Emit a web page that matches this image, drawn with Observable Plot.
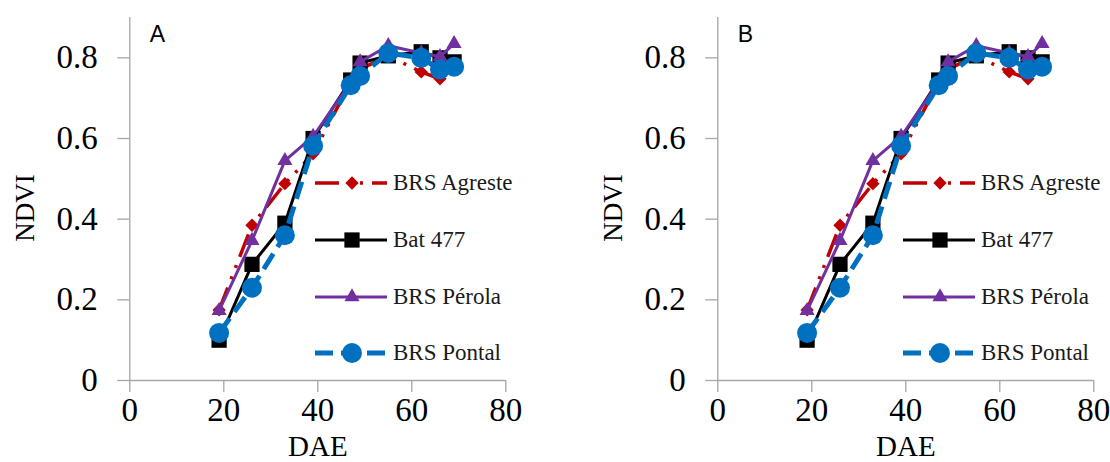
<!DOCTYPE html>
<html><head><meta charset="utf-8">
<script src="https://cdn.jsdelivr.net/npm/d3@7"></script>
<script src="https://cdn.jsdelivr.net/npm/@observablehq/plot@0.6"></script>
<style>
html,body{margin:0;padding:0;background:#fff;}
#chart{position:relative;width:1110px;height:462px;overflow:hidden;background:#fff;}
.panel{position:absolute;top:0;}
.legend{position:absolute;left:0;top:0;font-family:"Liberation Serif","Times New Roman",serif;font-size:23px;color:#1a1a1a;}
.legend .row{position:absolute;display:flex;align-items:center;height:30px;white-space:nowrap;}
.legend .row span{margin-left:6px;}
</style></head><body><div id="chart"></div>
<script>
// ---- data ----
const dae = [19, 26, 33, 39, 47, 49, 55, 62, 66, 69];
const agreste = [0.175, 0.385, 0.488, 0.562, 0.740, 0.772, 0.805, 0.765, 0.748, 0.780];
const bat477  = [0.100, 0.288, 0.390, 0.600, 0.745, 0.787, 0.805, 0.815, 0.800, 0.790];
const perola  = [0.173, 0.347, 0.545, 0.605, 0.740, 0.790, 0.830, 0.812, 0.803, 0.835];
const pontal  = [0.118, 0.230, 0.360, 0.582, 0.732, 0.755, 0.812, 0.800, 0.771, 0.778];
const seriesNames = ["BRS Agreste", "Bat 477", "BRS Pérola", "BRS Pontal"];
const seriesValues = [agreste, bat477, perola, pontal];
const xTicks = [0, 20, 40, 60, 80];
const yTicks = [0, 0.2, 0.4, 0.6, 0.8];
const panelLabels = ["A", "B"];
const xLabel = "DAE";
const yLabel = "NDVI";

// ---- styles ----
const styles = [
  {color: "#c00000", width: 3.5, dash: "24,9,3,9,3,9", symbol: "diamond2", r: 6},
  {color: "#000000", width: 3, dash: null, symbol: "square", r: 8.6},
  {color: "#7030a0", width: 3, dash: null, symbol: "triangle", r: 5.6},
  {color: "#0070c0", width: 5, dash: "18,8", symbol: "circle", r: 10}
];
const d3Symbols = {diamond2: d3.symbolDiamond2, square: d3.symbolSquare, triangle: d3.symbolTriangle, circle: d3.symbolCircle};

const panels = [
  {left: 0, width: 588, marginRight: 82.7},
  {left: 588, width: 522, marginRight: 16.7}
];
const mL = 129.3, mT = 17, mB = 82, H = 462;

const chart = document.getElementById("chart");

panels.forEach((p, pi) => {
  const marks = [
    Plot.ruleY([0], {stroke: "#a6a6a6", strokeWidth: 1.3}),
    Plot.ruleX([0], {stroke: "#a6a6a6", strokeWidth: 1.3}),
    Plot.axisY({ticks: yTicks, tickSize: 12, tickPadding: 20, stroke: "#a6a6a6", strokeWidth: 1.3, fill: "black",
      tickFormat: d => String(d), label: null, fontSize: 33}),
    Plot.axisX({ticks: xTicks, tickSize: 12, tickPadding: 5, stroke: "#a6a6a6", strokeWidth: 1.3, fill: "black",
      tickFormat: d => String(d), label: null, fontSize: 33}),
    Plot.text([xLabel], {frameAnchor: "bottom", dy: 66, lineAnchor: "middle", textAnchor: "middle", fontSize: 29, fill: "black"}),
    Plot.text([yLabel], {frameAnchor: "left", dx: 25 - mL, dy: 9, rotate: -90, lineAnchor: "middle", textAnchor: "middle", fontSize: 27, fill: "black"}),
    Plot.text([panelLabels[pi]], {frameAnchor: "top-left", dx: 20, dy: 8, lineAnchor: "top", textAnchor: "start",
      fontSize: "23px", fontFamily: "Liberation Sans, Arial, sans-serif", fill: "black"})
  ];
  seriesValues.forEach((vals, si) => {
    const s = styles[si];
    const data = dae.map((x, i) => ({x, y: vals[i]}));
    marks.push(Plot.line(data, {x: "x", y: "y", stroke: s.color, strokeWidth: s.width,
      strokeDasharray: s.dash || undefined, strokeLinecap: "butt", strokeLinejoin: "round"}));
    marks.push(Plot.dot(data, {x: "x", y: "y", symbol: s.symbol, r: s.r, fill: s.color, stroke: "none"}));
  });

  const svg = Plot.plot({
    width: p.width, height: H,
    marginLeft: mL, marginRight: p.marginRight, marginTop: mT, marginBottom: mB,
    x: {domain: [0, 80]},
    y: {domain: [0, 0.9]},
    style: {fontFamily: "'Liberation Serif', 'Times New Roman', serif", fontSize: "33px", background: "white", color: "black", overflow: "visible"},
    marks
  });

  const div = document.createElement("div");
  div.className = "panel";
  div.style.left = p.left + "px";
  div.style.width = p.width + "px";
  div.style.height = H + "px";
  div.appendChild(svg);

  // legend
  const leg = document.createElement("div");
  leg.className = "legend";
  const rowCenters = [183, 240, 297, 353];
  seriesNames.forEach((name, si) => {
    const s = styles[si];
    const row = document.createElement("div");
    row.className = "row";
    row.style.left = "315px";
    row.style.top = (rowCenters[si] - 15) + "px";
    const sv = d3.create("svg").attr("width", 72).attr("height", 30).style("overflow", "visible");
    sv.append("line").attr("x1", 0).attr("x2", 72).attr("y1", 15).attr("y2", 15)
      .attr("stroke", s.color).attr("stroke-width", s.width)
      .attr("stroke-dasharray", s.dash || null).attr("stroke-linecap", "butt");
    sv.append("path").attr("transform", "translate(37,15)")
      .attr("d", d3.symbol(d3Symbols[s.symbol], Math.PI * s.r * s.r)())
      .attr("fill", s.color);
    row.appendChild(sv.node());
    const sp = document.createElement("span");
    sp.textContent = name;
    row.appendChild(sp);
    leg.appendChild(row);
  });
  div.appendChild(leg);
  chart.appendChild(div);
});
</script>
</body></html>
